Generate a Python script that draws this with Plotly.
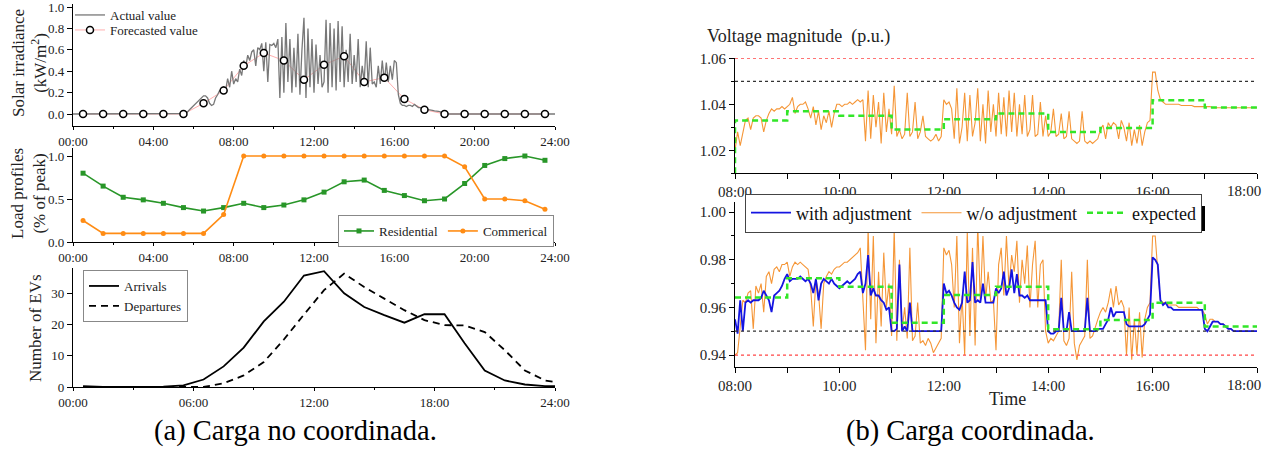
import plotly.graph_objects as go

W, H = 1269, 453
FONT = "Liberation Serif"

# ---------------- Panel (a) data ----------------
hour_ticks_4 = [0, 4, 8, 12, 16, 20, 24]
hour_ticks_6 = [0, 6, 12, 18, 24]
half_hours = [0.5 + i for i in range(24)]

forecast = [0, 0, 0, 0, 0, 0, 0.10, 0.22, 0.45, 0.57, 0.50, 0.32,
            0.46, 0.54, 0.30, 0.34, 0.14, 0.04, 0, 0, 0, 0, 0, 0]

solar_start, solar_step = 5.0, 0.1
solar_actual = [
    0, 0, 0, 0, 0.002, 0.005, 0.01, 0.02, 0.04, 0.06,
    0.08, 0.10, 0.11, 0.13, 0.15, 0.17, 0.17, 0.15, 0.10, 0.08,
    0.09, 0.15, 0.18, 0.22, 0.19, 0.26, 0.22, 0.33, 0.25, 0.40,
    0.28, 0.33, 0.30, 0.42, 0.36, 0.50, 0.44, 0.55, 0.50, 0.58,
    0.60, 0.45, 0.62, 0.60, 0.66, 0.40, 0.67, 0.30, 0.65, 0.64,
    0.66, 0.62, 0.70, 0.15, 0.72, 0.20, 0.85, 0.30, 0.70, 0.20,
    0.62, 0.25, 0.75, 0.18, 0.60, 0.90, 0.15, 0.80, 0.25, 0.70,
    0.20, 0.65, 0.28, 0.55, 0.25, 0.30, 0.88, 0.20, 0.85, 0.25,
    0.80, 0.22, 0.87, 0.30, 0.82, 0.25, 0.60, 0.30, 0.75, 0.28,
    0.55, 0.30, 0.70, 0.25, 0.45, 0.30, 0.68, 0.25, 0.62, 0.28,
    0.30, 0.25, 0.45, 0.28, 0.50, 0.30, 0.48, 0.30, 0.45, 0.32,
    0.50, 0.48, 0.18, 0.10, 0.08, 0.08, 0.07, 0.08, 0.08, 0.07,
    0.09, 0.07, 0.06, 0.06, 0.05, 0.05, 0.04, 0.04, 0.04, 0.035,
    0.03, 0.03, 0.025, 0.02, 0.01, 0.005, 0, 0, 0, 0, 0]

residential = [0.80, 0.65, 0.52, 0.49, 0.45, 0.40, 0.36, 0.40, 0.45, 0.40, 0.43, 0.49,
               0.58, 0.70, 0.72, 0.60, 0.54, 0.48, 0.50, 0.68, 0.89, 0.97, 1.00, 0.95]
commercial = [0.25, 0.10, 0.10, 0.10, 0.10, 0.10, 0.10, 0.32, 1.0, 1.0, 1.0, 1.0,
              1.0, 1.0, 1.0, 1.0, 1.0, 1.0, 1.0, 0.875, 0.50, 0.50, 0.48, 0.38]

ev_hours = half_hours + [24]
arrivals = [0.3, 0.0, 0.0, 0.0, 0.1, 0.5, 2.4, 6.6, 12.6, 21.0, 27.3, 35.7,
            37.1, 30.0, 25.6, 23.0, 20.6, 23.3, 23.3, 14.0, 5.3, 2.1, 0.8, 0.3, 0.3]
departures = [0, 0, 0, 0, 0, 0, 0, 1.2, 3.7, 8.0, 15.2, 23.2,
              31.0, 36.3, 32.0, 28.3, 24.6, 21.4, 19.8, 19.7, 17.6, 11.8, 5.3, 2.1, 1.6]

# ---------------- Panel (b) data (3-minute samples, 08:00-18:00) ----------------
v_step = 0.05
v_top_wo = [
    1.020, 1.028, 1.022, 1.027, 1.033, 1.034, 1.029, 1.034, 1.035, 1.035, 1.034, 1.028, 1.033, 1.036, 1.038, 1.037, 1.038, 1.038, 1.039, 1.038,
    1.039, 1.040, 1.043, 1.036, 1.039, 1.040, 1.040, 1.041, 1.038, 1.034, 1.039, 1.031, 1.037, 1.029, 1.035, 1.032, 1.037, 1.030, 1.036, 1.040,
    1.040, 1.039, 1.040, 1.040, 1.041, 1.040, 1.041, 1.042, 1.041, 1.042, 1.024, 1.046, 1.025, 1.044, 1.030, 1.041, 1.023, 1.045, 1.028, 1.038,
    1.027, 1.048, 1.026, 1.029, 1.025, 1.027, 1.045, 1.026, 1.028, 1.041, 1.025, 1.028, 1.035, 1.026, 1.025, 1.024, 1.025, 1.027, 1.024, 1.026,
    1.042, 1.040, 1.041, 1.038, 1.025, 1.047, 1.023, 1.030, 1.045, 1.024, 1.044, 1.026, 1.032, 1.047, 1.024, 1.040, 1.023, 1.046, 1.028, 1.040,
    1.026, 1.045, 1.027, 1.043, 1.026, 1.046, 1.028, 1.045, 1.026, 1.040, 1.027, 1.044, 1.026, 1.029, 1.044, 1.026, 1.027, 1.041, 1.026, 1.035,
    1.026, 1.028, 1.038, 1.026, 1.027, 1.036, 1.025, 1.026, 1.037, 1.025, 1.024, 1.023, 1.024, 1.037, 1.024, 1.023, 1.024, 1.023, 1.024, 1.025,
    1.029, 1.031, 1.025, 1.032, 1.030, 1.032, 1.031, 1.025, 1.033, 1.030, 1.024, 1.032, 1.022, 1.029, 1.023, 1.031, 1.022, 1.028, 1.032, 1.033,
    1.054, 1.054, 1.046, 1.042, 1.041, 1.040, 1.040, 1.040, 1.040, 1.040, 1.040, 1.0395, 1.0395, 1.0395, 1.0395, 1.0395, 1.039, 1.039, 1.039, 1.039,
    1.039, 1.039, 1.039, 1.0385, 1.0385, 1.0385, 1.0385, 1.0385, 1.0385, 1.0385, 1.0385, 1.0385, 1.0385, 1.0385, 1.0385, 1.0385, 1.0385, 1.0385, 1.0385, 1.0385,
    1.0385]

v_bot_wo = [
    0.940, 0.941, 0.952, 0.963, 0.962, 0.966, 0.967, 0.951, 0.969, 0.966, 0.970, 0.958, 0.973, 0.975, 0.970, 0.976, 0.977, 0.975, 0.978, 0.978,
    0.979, 0.973, 0.977, 0.979, 0.978, 0.979, 0.978, 0.977, 0.976, 0.968, 0.952, 0.972, 0.966, 0.951, 0.970, 0.973, 0.975, 0.974, 0.976, 0.977,
    0.977, 0.978, 0.979, 0.979, 0.980, 0.981, 0.982, 0.983, 0.985, 0.960, 0.942, 0.993, 0.955, 0.990, 0.945, 0.975, 0.952, 0.983, 0.960, 0.970,
    0.948, 0.993, 0.946, 0.980, 0.950, 0.960, 0.947, 0.985, 0.946, 0.948, 0.962, 0.945, 0.946, 0.944, 0.947, 0.945, 0.941, 0.943, 0.945, 0.947,
    0.985, 0.982, 0.984, 0.978, 0.960, 0.990, 0.945, 0.965, 0.940, 0.992, 0.948, 0.985, 0.944, 0.995, 0.962, 0.990, 0.963, 0.975, 0.962, 0.963,
    0.942, 0.978, 0.985, 0.965, 0.990, 0.968, 0.982, 0.975, 0.988, 0.962, 0.980, 0.970, 0.986, 0.960, 0.978, 0.988, 0.960, 0.978, 0.980, 0.950,
    0.945, 0.947, 0.946, 0.948, 0.950, 0.980, 0.946, 0.944, 0.947, 0.975, 0.945, 0.938, 0.944, 0.946, 0.948, 0.980, 0.947, 0.948, 0.952, 0.955,
    0.958, 0.960, 0.958, 0.962, 0.968, 0.960, 0.969, 0.961, 0.963, 0.960, 0.940, 0.960, 0.938, 0.955, 0.940, 0.958, 0.939, 0.955, 0.960, 0.962,
    0.990, 0.990, 0.975, 0.963, 0.962, 0.962, 0.961, 0.961, 0.961, 0.961, 0.960, 0.960, 0.960, 0.960, 0.960, 0.960, 0.960, 0.960, 0.959, 0.959,
    0.957, 0.953, 0.955, 0.955, 0.954, 0.954, 0.953, 0.953, 0.952, 0.951, 0.951, 0.950, 0.950, 0.950, 0.950, 0.950, 0.950, 0.950, 0.950, 0.950,
    0.950]

v_bot_with = [
    0.955, 0.949, 0.963, 0.950, 0.962, 0.963, 0.962, 0.963, 0.963, 0.963, 0.964, 0.967, 0.965, 0.963, 0.958, 0.965, 0.966, 0.967, 0.969, 0.972,
    0.974, 0.971, 0.972, 0.972, 0.972, 0.973, 0.972, 0.971, 0.972, 0.970, 0.966, 0.972, 0.963, 0.970, 0.972, 0.971, 0.970, 0.972, 0.970, 0.969,
    0.968, 0.969, 0.970, 0.971, 0.970, 0.971, 0.972, 0.974, 0.975, 0.966, 0.970, 0.982, 0.965, 0.968, 0.965, 0.965, 0.963, 0.962, 0.959, 0.960,
    0.950, 0.950, 0.951, 0.978, 0.950, 0.952, 0.950, 0.962, 0.950, 0.950, 0.950, 0.950, 0.950, 0.950, 0.950, 0.950, 0.950, 0.950, 0.950, 0.950,
    0.970, 0.966, 0.967, 0.965, 0.962, 0.960, 0.959, 0.962, 0.975, 0.962, 0.963, 0.979, 0.962, 0.963, 0.962, 0.970, 0.962, 0.962, 0.962, 0.962,
    0.968, 0.966, 0.968, 0.975, 0.965, 0.968, 0.976, 0.966, 0.974, 0.965, 0.965, 0.964, 0.965, 0.963, 0.963, 0.963, 0.963, 0.963, 0.963, 0.963,
    0.950, 0.949, 0.949, 0.950, 0.950, 0.964, 0.950, 0.950, 0.958, 0.950, 0.950, 0.950, 0.950, 0.950, 0.950, 0.964, 0.950, 0.950, 0.950, 0.951,
    0.951, 0.951, 0.953, 0.955, 0.960, 0.956, 0.958, 0.958, 0.958, 0.958, 0.953, 0.952, 0.952, 0.952, 0.952, 0.952, 0.952, 0.953, 0.955, 0.957,
    0.981, 0.980, 0.978, 0.963, 0.961, 0.962, 0.960, 0.960, 0.959, 0.959, 0.959, 0.959, 0.959, 0.959, 0.959, 0.959, 0.959, 0.959, 0.959, 0.959,
    0.951, 0.950, 0.952, 0.954, 0.954, 0.954, 0.953, 0.953, 0.952, 0.951, 0.951, 0.950, 0.950, 0.950, 0.950, 0.950, 0.950, 0.950, 0.950, 0.950,
    0.950]

exp_hours = [8, 9, 10, 11, 12, 13, 14, 15, 16, 17, 18]
expected_top = [1.033, 1.037, 1.035, 1.029, 1.0335, 1.036, 1.028, 1.0297, 1.0418, 1.0386, 1.0386]
expected_bot = [0.9642, 0.9722, 0.9687, 0.9536, 0.9652, 0.9687, 0.9508, 0.9547, 0.962, 0.952, 0.952]
expected_top_start = 1.01

limits_top = {"red": 1.06, "black": 1.05}
limits_bot = {"red": 0.94, "black": 0.95}

v_ticks_major = [8, 10, 12, 14, 16, 18]
v_ticks_minor = [9, 11, 13, 15, 17]


def hh(h):
    return f"{int(h):02d}:00"


def px(x):
    return x / W


def py(y):
    return 1 - y / H


solar_t = [0] + [solar_start + i * solar_step for i in range(len(solar_actual))] + [24]
solar_v = [0] + solar_actual + [0]
v_t = [8 + i * v_step for i in range(len(v_top_wo))]
# the last label ("18:00") sits against the right edge, so it is drawn as a separate text
v_ticktext = [hh(h) for h in v_ticks_major[:-1]] + [""]
v_last_label = hh(v_ticks_major[-1])

ORANGE_A = "rgb(255,140,20)"
GREEN_A = "rgb(40,150,40)"
ORANGE_B = "rgb(245,150,55)"
BLUE_B = "rgb(20,20,225)"
GREEN_B = "rgb(50,230,40)"
FC_MARKER = dict(symbol="circle", size=7, color="white", line=dict(color="black", width=1.5))

fig = go.Figure()

# Solar
fig.add_trace(go.Scatter(x=half_hours, y=forecast, mode="lines", line=dict(color="rgb(255,175,175)", width=1),
                         showlegend=False, xaxis="x", yaxis="y"))
fig.add_trace(go.Scatter(x=solar_t, y=solar_v, mode="lines", name="Actual value",
                         line=dict(color="rgb(120,120,120)", width=1.3), xaxis="x", yaxis="y", legend="legend"))
fig.add_trace(go.Scatter(x=half_hours, y=forecast, mode="markers", showlegend=False,
                         marker=FC_MARKER, xaxis="x", yaxis="y"))
fig.add_trace(go.Scatter(x=[None], y=[None], mode="lines+markers", name="Forecasted value",
                         line=dict(color="rgb(255,175,175)", width=1), marker=FC_MARKER,
                         xaxis="x", yaxis="y", legend="legend5"))

# Load profiles
fig.add_trace(go.Scatter(x=half_hours, y=residential, mode="lines+markers", name="Residential",
                         line=dict(color=GREEN_A, width=1.6), marker=dict(symbol="square", size=5, color=GREEN_A),
                         xaxis="x2", yaxis="y2", legend="legend2"))
fig.add_trace(go.Scatter(x=half_hours, y=commercial, mode="lines+markers", name="Commerical",
                         line=dict(color=ORANGE_A, width=1.6), marker=dict(symbol="circle", size=5, color=ORANGE_A),
                         xaxis="x2", yaxis="y2", legend="legend2"))

# EVs
fig.add_trace(go.Scatter(x=ev_hours, y=arrivals, mode="lines", name="Arrivals",
                         line=dict(color="black", width=1.8), xaxis="x3", yaxis="y3", legend="legend3"))
fig.add_trace(go.Scatter(x=ev_hours, y=departures, mode="lines", name="Departures",
                         line=dict(color="black", width=1.8, dash="7px,5px"), xaxis="x3", yaxis="y3", legend="legend3"))

# Voltage top
fig.add_trace(go.Scatter(x=v_t, y=v_top_wo, mode="lines", showlegend=False,
                         line=dict(color=ORANGE_B, width=1.1), xaxis="x4", yaxis="y4"))
fig.add_trace(go.Scatter(x=[exp_hours[0]] + exp_hours, y=[expected_top_start] + expected_top, mode="lines",
                         showlegend=False, line=dict(color=GREEN_B, width=2.5, dash="6px,4px", shape="hv"),
                         xaxis="x4", yaxis="y4"))

# Voltage bottom
fig.add_trace(go.Scatter(x=v_t, y=v_bot_wo, mode="lines", name="w/o adjustment", legendrank=2,
                         line=dict(color=ORANGE_B, width=1.1), xaxis="x5", yaxis="y5", legend="legend4"))
fig.add_trace(go.Scatter(x=v_t, y=v_bot_with, mode="lines", name="with adjustment", legendrank=1,
                         line=dict(color=BLUE_B, width=1.8), xaxis="x5", yaxis="y5", legend="legend4"))
fig.add_trace(go.Scatter(x=exp_hours, y=expected_bot, mode="lines", name="expected", legendrank=3,
                         line=dict(color=GREEN_B, width=2.5, dash="6px,4px", shape="hv"),
                         xaxis="x5", yaxis="y5", legend="legend4"))

axis_common = dict(showline=True, linecolor="black", linewidth=1.2, ticks="outside", ticklen=5,
                   tickcolor="black", tickwidth=1.2, showgrid=False, zeroline=False, mirror=False,
                   automargin=False, ticklabeloverflow="allow")
fa = dict(family=FONT, size=13, color="#222")
fb = dict(family=FONT, size=15, color="#222")

xa_dom = [px(73), px(555)]
xb_dom = [px(735), px(1257)]

leg_a = dict(font=dict(family=FONT, size=13, color="#222"), itemwidth=30, tracegroupgap=0)
minor_a = dict(ticks="outside", ticklen=2, tickcolor="black")

layout = dict(
    width=W, height=H, margin=dict(l=0, r=0, t=0, b=0, pad=0, autoexpand=False),
    paper_bgcolor="white", plot_bgcolor="rgba(0,0,0,0)",
    font=dict(family=FONT, color="#222"),
    xaxis=dict(axis_common, domain=xa_dom, range=[0, 24], anchor="y", tickvals=hour_ticks_4, ticklen=3,
               ticktext=[hh(h) for h in hour_ticks_4], tickfont=fa,
               minor=dict(minor_a, tickvals=[2, 6, 10, 14, 18, 22])),
    yaxis=dict(axis_common, domain=[py(126), py(4)], range=[-0.112, 1.028], anchor="x",
               tickvals=[0, 0.2, 0.4, 0.6, 0.8, 1.0], tickformat=".1f", tickfont=fa),
    xaxis2=dict(axis_common, domain=xa_dom, range=[0, 24], anchor="y2", tickvals=hour_ticks_4, ticklen=3,
                ticktext=[hh(h) for h in hour_ticks_4], tickfont=fa,
                minor=dict(minor_a, tickvals=[2, 6, 10, 14, 18, 22])),
    yaxis2=dict(axis_common, domain=[py(242), py(148)], range=[0, 1.093], anchor="x2",
                tickvals=[0, 0.5, 1.0], tickformat=".1f", tickfont=fa),
    xaxis3=dict(axis_common, domain=xa_dom, range=[0, 24], anchor="y3", tickvals=hour_ticks_6, ticklen=3,
                ticktext=[hh(h) for h in hour_ticks_6], tickfont=fa,
                minor=dict(minor_a, tickvals=[3, 9, 15, 21])),
    yaxis3=dict(axis_common, domain=[py(387), py(268)], range=[0, 38.1], anchor="x3",
                tickvals=[0, 10, 20, 30], tickfont=fa),
    xaxis4=dict(axis_common, domain=xb_dom, range=[8, 18], anchor="y4", tickvals=v_ticks_major,
                ticktext=v_ticktext, tickfont=fb,
                minor=dict(tickvals=v_ticks_minor, ticks="outside", ticklen=5, tickcolor="black")),
    yaxis4=dict(axis_common, domain=[py(173.3), py(58.3)], range=[1.01, 1.06], anchor="x4",
                tickvals=[1.02, 1.04, 1.06], tickformat=".2f", tickfont=fb,
                minor=dict(tickvals=[1.01, 1.03, 1.05], ticks="outside", ticklen=3, tickcolor="black")),
    xaxis5=dict(axis_common, domain=xb_dom, range=[8, 18], anchor="y5", tickvals=v_ticks_major,
                ticktext=v_ticktext, tickfont=fb,
                minor=dict(tickvals=v_ticks_minor, ticks="outside", ticklen=5, tickcolor="black")),
    yaxis5=dict(axis_common, domain=[py(366.7), py(201.7)], range=[0.9351, 1.0044], anchor="x5",
                tickvals=[0.94, 0.96, 0.98, 1.00], tickformat=".2f", tickfont=fb,
                minor=dict(tickvals=[0.95, 0.97, 0.99], ticks="outside", ticklen=3, tickcolor="black")),
    legend=dict(leg_a, x=px(70), y=py(15), xanchor="left", yanchor="middle", bgcolor="rgba(0,0,0,0)"),
    legend5=dict(leg_a, x=px(70), y=py(30), xanchor="left", yanchor="middle", bgcolor="rgba(0,0,0,0)"),
    legend2=dict(leg_a, x=px(554), y=py(231), xanchor="right", yanchor="middle", orientation="h",
                 bgcolor="white", bordercolor="#888", borderwidth=1),
    legend3=dict(leg_a, x=px(83), y=py(270), xanchor="left", yanchor="top", bgcolor="white",
                 bordercolor="#888", borderwidth=1),
    legend4=dict(x=px(745), y=py(213), xanchor="left", yanchor="middle", orientation="h",
                 bgcolor="white", bordercolor="#444", borderwidth=1,
                 font=dict(family=FONT, size=18, color="#111"), itemwidth=40),
)

shapes = []
for color, val in [("rgb(255,70,70)", limits_top["red"]), ("#333", limits_top["black"])]:
    shapes.append(dict(type="line", xref="x4", yref="y4", x0=8, x1=18, y0=val, y1=val,
                       line=dict(color=color, width=1.3, dash="dot")))
for color, val in [("rgb(255,70,70)", limits_bot["red"]), ("#333", limits_bot["black"])]:
    shapes.append(dict(type="line", xref="x5", yref="y5", x0=8, x1=18, y0=val, y1=val,
                       line=dict(color=color, width=1.3, dash="dot")))
# legend drop shadow
shapes.append(dict(type="rect", xref="paper", yref="paper", x0=px(750), x1=px(1205), y0=py(231), y1=py(206),
                   fillcolor="black", line=dict(width=0), layer="above"))
layout["shapes"] = shapes


def note(text, x, y, size, angle=0, xanchor="center", color="#222"):
    return dict(text=text, x=px(x), y=py(y), xref="paper", yref="paper", xanchor=xanchor, yanchor="middle",
                textangle=angle, showarrow=False, font=dict(family=FONT, size=size, color=color))


layout["annotations"] = [
    note("Solar irradiance<br>(kW/m<sup>2</sup>)", 29, 63, 17, angle=-90),
    note("Load profiles<br>(% of peak)", 29, 193, 17, angle=-90),
    note("Number of EVs", 35, 328, 17, angle=-90),
    note("Voltage magnitude\u00a0 (p.u.)", 705, 37, 18, xanchor="left"),
    note(v_last_label, 1244, 191, 15),
    note(v_last_label, 1244, 385, 15),
    note("Time", 1007, 399, 18),
    note("(a) Carga no coordinada.", 295, 431, 28.5, color="black"),
    note("(b) Carga coordinada.", 970, 431, 28.5, color="black"),
]

fig.update_layout(layout)
fig.write_html("out.html")
